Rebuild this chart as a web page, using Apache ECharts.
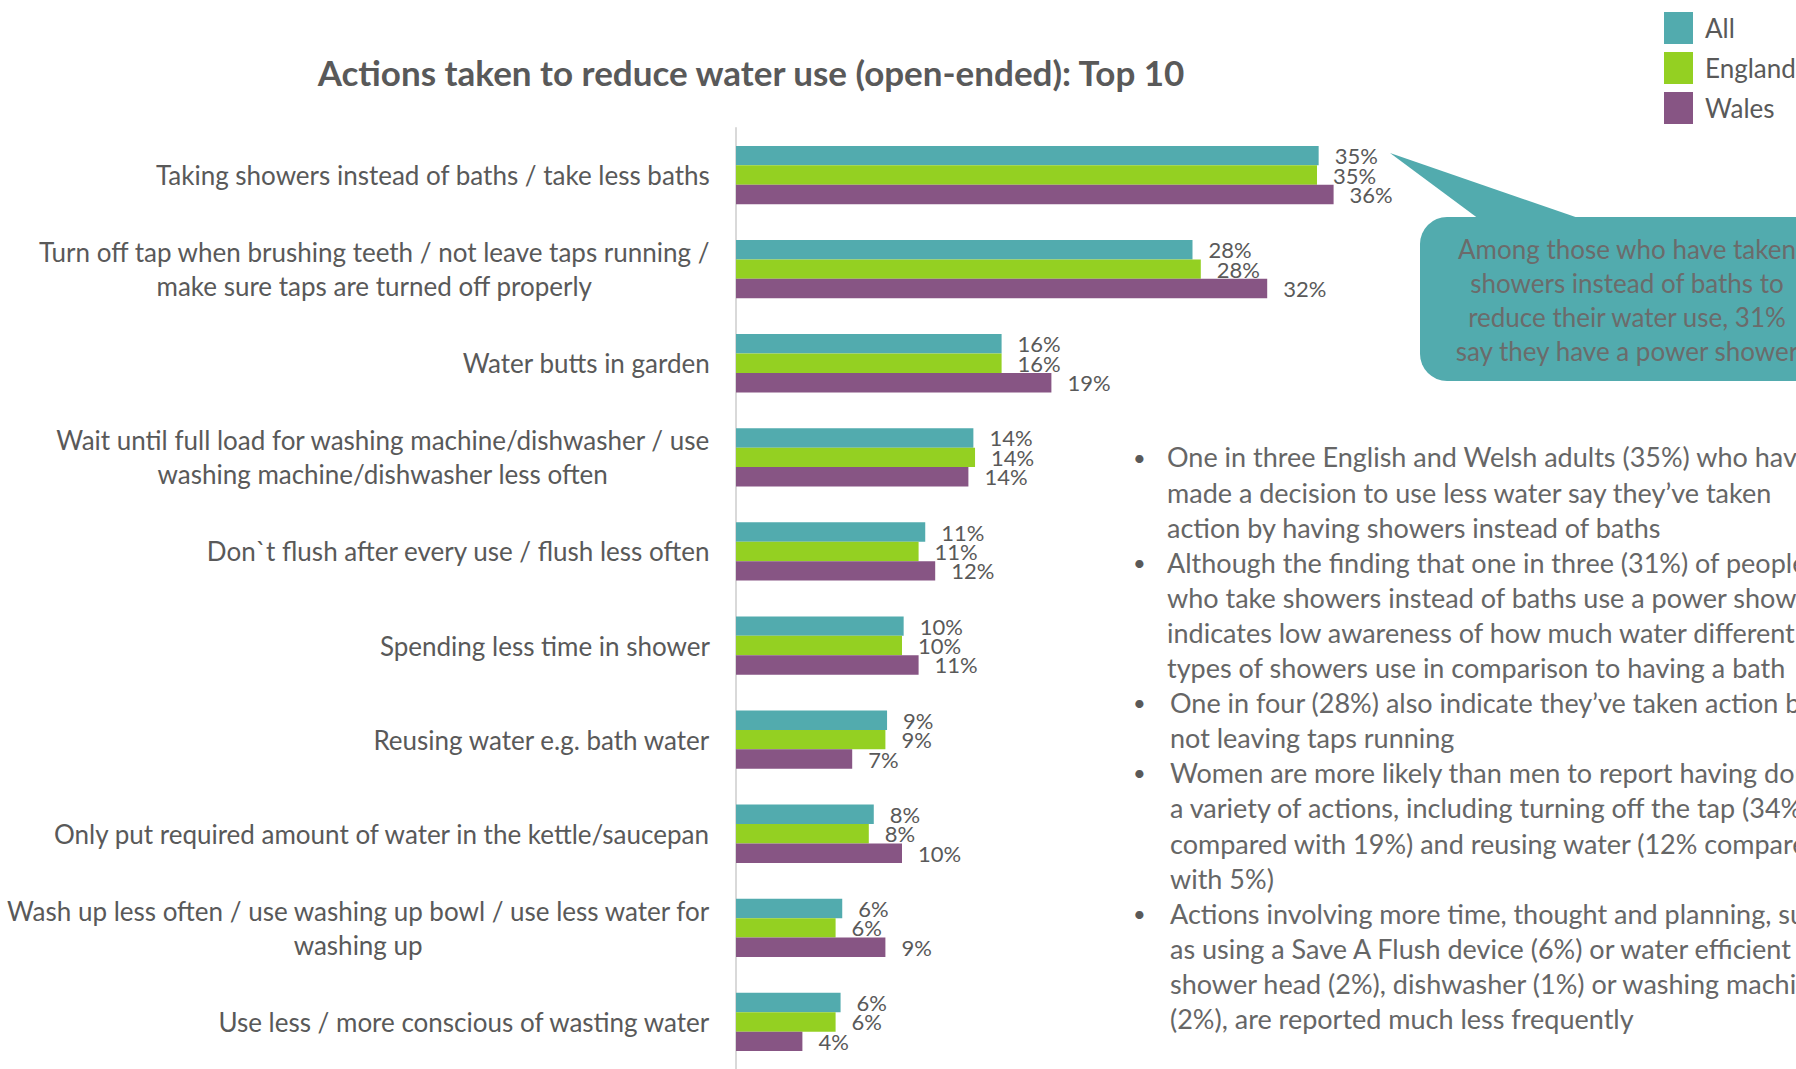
<!DOCTYPE html>
<html>
<head>
<meta charset="utf-8">
<title>Actions taken to reduce water use</title>
<script src="https://cdn.jsdelivr.net/npm/echarts@6.0.0/dist/echarts.min.js"></script>
<style>
  html, body { margin: 0; padding: 0; background: #fff; }
  #main { width: 1796px; height: 1069px; }
</style>
</head>
<body>
<div id="main"></div>
<script>
// chart data
var categories = [
  'Taking showers instead of baths / take less baths',
  'Turn off tap when brushing teeth / not leave taps running /\nmake sure taps are turned off properly',
  'Water butts in garden',
  'Wait until full load for washing machine/dishwasher / use\nwashing machine/dishwasher less often',
  'Don`t flush after every use / flush less often',
  'Spending less time in shower',
  'Reusing water e.g. bath water',
  'Only put required amount of water in the kettle/saucepan',
  'Wash up less often / use washing up bowl / use less water for\nwashing up',
  'Use less / more conscious of wasting water'
];
var seriesNames = ['All', 'England', 'Wales'];
var allValues = [35.1, 27.5, 16.0, 14.3, 11.4, 10.1, 9.1, 8.3, 6.4, 6.3];
var englandValues = [35.0, 28.0, 16.0, 14.4, 11.0, 10.0, 9.0, 8.0, 6.0, 6.0];
var walesValues = [36.0, 32.0, 19.0, 14.0, 12.0, 11.0, 7.0, 10.0, 9.0, 4.0];

var calloutLines = [
  'Among those who have taken',
  'showers instead of baths to',
  'reduce their water use, 31%',
  'say they have a power shower'
];
var bullets = [
  ['One in three English and Welsh adults (35%) who have',
   'made a decision to use less water say they\u2019ve taken',
   'action by having showers instead of baths'],
  ['Although the finding that one in three (31%) of people',
   'who take showers instead of baths use a power shower',
   'indicates low awareness of how much water different',
   'types of showers use in comparison to having a bath'],
  ['One in four (28%) also indicate they\u2019ve taken action by',
   'not leaving taps running'],
  ['Women are more likely than men to report having done',
   'a variety of actions, including turning off the tap (34%',
   'compared with 19%) and reusing water (12% compared',
   'with 5%)'],
  ['Actions involving more time, thought and planning, such',
   'as using a Save A Flush device (6%) or water efficient',
   'shower head (2%), dishwasher (1%) or washing machine',
   '(2%), are reported much less frequently']
];

var colors = ['#52abae', '#94d022', '#875584'];
var textGrey = '#595959';
var font = 'Lato';

var myChart = echarts.init(document.getElementById('main'), null, { renderer: 'svg' });

// bullet list, drawn as graphic texts
var graphics = [];
var lineTop = 457, linePitch = 35.1, lineIdx = 0;
bullets.forEach(function (b, i) {
  var y = lineTop + lineIdx * linePitch;
  var indent = i >= 2 ? 3 : 0;
  graphics.push({
    type: 'text', x: 1133, y: y,
    style: { text: '\u2022', fontSize: 22, fill: textGrey, verticalAlign: 'middle', fontFamily: font }
  });
  graphics.push({
    type: 'text', x: 1167 + indent, y: y - linePitch / 2,
    style: {
      text: b.join('\n'), fontSize: 27, lineHeight: linePitch, fill: '#666666',
      verticalAlign: 'top', fontFamily: font
    }
  });
  lineIdx += b.length;
});

// speech-bubble callout
graphics.push({
  type: 'polygon',
  shape: { points: [[1390, 153], [1483, 222], [1590, 222]] },
  style: { fill: colors[0] }
});
graphics.push({
  type: 'rect',
  shape: { x: 1420, y: 217, width: 420, height: 164, r: 27 },
  style: { fill: colors[0] }
});
graphics.push({
  type: 'text', x: 1627, y: 300,
  style: {
    text: calloutLines.join('\n'), fontSize: 26, lineHeight: 33.7, fill: '#6b6b6b',
    align: 'center', verticalAlign: 'middle', fontFamily: font
  }
});

var valueLabel = {
  show: true,
  position: 'right',
  distance: 16,
  fontSize: 22,
  color: textGrey,
  fontFamily: font,
  formatter: function (p) { return Math.round(p.value) + '%'; }
};

var option = {
  animation: false,
  textStyle: { fontFamily: font },
  title: {
    text: 'Actions taken to reduce water use (open-ended): Top 10',
    left: 751,
    top: 72,
    padding: 0,
    textAlign: 'center',
    textVerticalAlign: 'middle',
    textStyle: { fontSize: 35, fontWeight: 'bold', color: textGrey, fontFamily: font }
  },
  legend: {
    orient: 'vertical',
    left: 1664,
    top: 12,
    padding: 0,
    itemWidth: 29,
    itemHeight: 32,
    itemGap: 8,
    icon: 'rect',
    data: seriesNames,
    textStyle: { fontSize: 26, color: textGrey, fontFamily: font, padding: [0, 0, 0, 7] }
  },
  grid: { left: 736, top: 128, width: 664, height: 943 },
  xAxis: {
    type: 'value',
    min: 0,
    max: 40,
    show: false,
    splitLine: { show: false }
  },
  yAxis: {
    type: 'category',
    inverse: true,
    data: categories,
    axisLine: { show: true, lineStyle: { color: '#d9d9d9', width: 2 } },
    axisTick: { show: false },
    axisLabel: {
      margin: 26,
      align: 'right',
      formatter: function (v) {
        return v.split('\n').map(function (s) { return '{c|' + s + '}'; }).join('\n');
      },
      rich: {
        c: { align: 'center', fontSize: 26, lineHeight: 34, color: textGrey, fontFamily: font }
      }
    }
  },
  series: [
    { name: seriesNames[0], type: 'bar', data: allValues, itemStyle: { color: colors[0] },
      barGap: '0%', barCategoryGap: '38%', label: valueLabel },
    { name: seriesNames[1], type: 'bar', data: englandValues, itemStyle: { color: colors[1] },
      barGap: '0%', barCategoryGap: '38%', label: valueLabel },
    { name: seriesNames[2], type: 'bar', data: walesValues, itemStyle: { color: colors[2] },
      barGap: '0%', barCategoryGap: '38%', label: valueLabel }
  ],
  graphic: graphics
};

option && myChart.setOption(option);
</script>
</body>
</html>
